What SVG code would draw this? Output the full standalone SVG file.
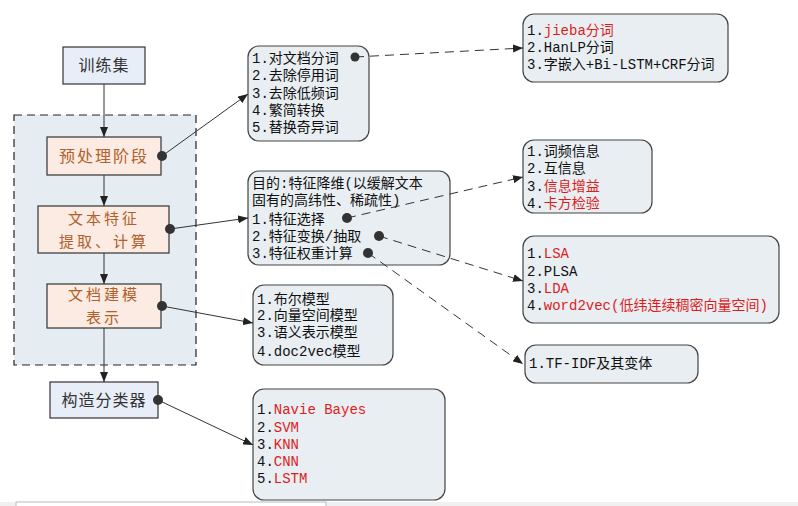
<svg xmlns="http://www.w3.org/2000/svg" width="798" height="506" viewBox="0 0 798 506">
<style>
.lt{font-family:"Noto Sans CJK SC","Noto Sans",sans-serif;font-size:16px;text-anchor:middle}
.l2{font-size:15px}
.blue{fill:#e8eef8;stroke:#333;stroke-width:1.2}
.peach{fill:#fcebe2;stroke:#333;stroke-width:1.2}
.br{fill:#b0602a}
.dk{fill:#333}
.rb{fill:#e8eef2;stroke:#444;stroke-width:1.2}
.t{font-family:"Liberation Mono","Noto Sans CJK SC",monospace;font-size:14px;fill:#111}
.r{fill:#dd1c1c}
.ln{stroke:#333;stroke-width:1;fill:none}
.ds{stroke:#333;stroke-width:1;fill:none;stroke-dasharray:9,6}
.dot{fill:#333}
</style>
<defs>
<marker id="ah" markerWidth="10" markerHeight="8" refX="10" refY="4" orient="auto" markerUnits="userSpaceOnUse">
<path d="M0,0 L10,4 L0,8 Z" fill="#222"/>
</marker>
</defs>
<rect width="798" height="506" fill="#fff"/>
<rect x="0" y="502" width="798" height="4" fill="#f0f0f0"/>
<rect x="16" y="502" width="310" height="8" fill="#fff" stroke="#bbb"/>

<rect id="container" x="14" y="115" width="182" height="250" fill="#e6edf2" stroke="#222" stroke-width="1.2" stroke-dasharray="8,5"/>

<g id="train">
<rect class="blue" x="63" y="47" width="82" height="37"/>
<text class="lt dk" x="104" y="71" letter-spacing="1">训练集</text>
</g>
<g id="preprocess">
<rect class="peach" x="47" y="137" width="114" height="38"/>
<text class="lt br" x="104" y="162" letter-spacing="2">预处理阶段</text>
</g>
<g id="feature">
<rect class="peach" x="38" y="206" width="131" height="47"/>
<text class="lt l2 br" x="104" y="224" letter-spacing="3">文本特征</text>
<text class="lt l2 br" x="104" y="246.5" letter-spacing="3">提取、计算</text>
</g>
<g id="docmodel">
<rect class="peach" x="47" y="284" width="114" height="44"/>
<text class="lt l2 br" x="104" y="300" letter-spacing="3">文档建模</text>
<text class="lt l2 br" x="104" y="322.5" letter-spacing="3">表示</text>
</g>
<g id="classifier">
<rect class="blue" x="50" y="382" width="108" height="36"/>
<text class="lt dk" x="104" y="406" letter-spacing="1">构造分类器</text>
</g>

<g id="box-preprocess">
<rect class="rb" x="248" y="46" width="121" height="95" rx="11"/>
<text class="t" x="252" y="63">1.对文档分词</text>
<text class="t" x="252" y="80">2.去除停用词</text>
<text class="t" x="252" y="98">3.去除低频词</text>
<text class="t" x="252" y="115">4.繁简转换</text>
<text class="t" x="252" y="132">5.替换奇异词</text>
</g>
<g id="box-segment">
<rect class="rb" x="523" y="14" width="205" height="68" rx="11"/>
<text class="t" x="527" y="35">1.<tspan class="r">jieba分词</tspan></text>
<text class="t" x="527" y="52">2.HanLP分词</text>
<text class="t" x="527" y="69">3.字嵌入+Bi-LSTM+CRF分词</text>
</g>
<g id="box-feature">
<rect class="rb" x="248" y="171" width="202" height="94" rx="11"/>
<text class="t" x="252" y="188">目的:特征降维(以缓解文本</text>
<text class="t" x="252" y="205">固有的高纬性、稀疏性)</text>
<text class="t" x="252" y="224">1.特征选择</text>
<text class="t" x="252" y="241">2.特征变换/抽取</text>
<text class="t" x="252" y="258">3.特征权重计算</text>
</g>
<g id="box-select">
<rect class="rb" x="523" y="140" width="129" height="73" rx="11"/>
<text class="t" x="527" y="156">1.词频信息</text>
<text class="t" x="527" y="173">2.互信息</text>
<text class="t" x="527" y="191">3.<tspan class="r">信息增益</tspan></text>
<text class="t" x="527" y="208">4.<tspan class="r">卡方检验</tspan></text>
</g>
<g id="box-transform">
<rect class="rb" x="523" y="236" width="256" height="87" rx="11"/>
<text class="t" x="527" y="258">1.<tspan class="r">LSA</tspan></text>
<text class="t" x="527" y="276">2.PLSA</text>
<text class="t" x="527" y="293">3.<tspan class="r">LDA</tspan></text>
<text class="t" x="527" y="310">4.<tspan class="r">word2vec(低纬连续稠密向量空间)</tspan></text>
</g>
<g id="box-weight">
<rect class="rb" x="525" y="345" width="173" height="38" rx="11"/>
<text class="t" x="529" y="368">1.TF-IDF及其变体</text>
</g>
<g id="box-docmodel">
<rect class="rb" x="253" y="285" width="140" height="80" rx="11"/>
<text class="t" x="257" y="304">1.布尔模型</text>
<text class="t" x="257" y="320">2.向量空间模型</text>
<text class="t" x="257" y="337">3.语义表示模型</text>
<text class="t" x="257" y="356">4.doc2vec模型</text>
</g>
<g id="box-classifier">
<rect class="rb" x="253" y="389" width="192" height="111" rx="11"/>
<text class="t" x="257" y="414">1.<tspan class="r">Navie Bayes</tspan></text>
<text class="t" x="257" y="432">2.<tspan class="r">SVM</tspan></text>
<text class="t" x="257" y="449">3.<tspan class="r">KNN</tspan></text>
<text class="t" x="257" y="466">4.<tspan class="r">CNN</tspan></text>
<text class="t" x="257" y="483">5.<tspan class="r">LSTM</tspan></text>
</g>

<g id="connectors">
<line class="ln" x1="104" y1="84" x2="104" y2="137" marker-end="url(#ah)"/>
<line class="ln" x1="104" y1="175" x2="104" y2="206" marker-end="url(#ah)"/>
<line class="ln" x1="104" y1="253" x2="104" y2="284" marker-end="url(#ah)"/>
<line class="ln" x1="104" y1="328" x2="104" y2="382" marker-end="url(#ah)"/>
<line class="ln" x1="162" y1="156" x2="248" y2="94" marker-end="url(#ah)"/>
<line class="ln" x1="170" y1="229" x2="248" y2="218" marker-end="url(#ah)"/>
<line class="ln" x1="162" y1="306" x2="253" y2="323" marker-end="url(#ah)"/>
<line class="ln" x1="158" y1="400" x2="253" y2="445" marker-end="url(#ah)"/>
<line class="ds" x1="355" y1="57" x2="523" y2="48" marker-end="url(#ah)"/>
<line class="ds" x1="347" y1="218" x2="523" y2="177" marker-end="url(#ah)"/>
<line class="ds" x1="379" y1="236" x2="523" y2="281" marker-end="url(#ah)"/>
<line class="ds" x1="368" y1="253" x2="523" y2="364" marker-end="url(#ah)"/>
<circle class="dot" cx="162" cy="156" r="5"/>
<circle class="dot" cx="170" cy="229" r="5"/>
<circle class="dot" cx="162" cy="306" r="5"/>
<circle class="dot" cx="158" cy="400" r="5"/>
<circle class="dot" cx="355" cy="57" r="4.5"/>
<circle class="dot" cx="347" cy="218" r="5"/>
<circle class="dot" cx="379" cy="236" r="5"/>
<circle class="dot" cx="368" cy="253" r="5"/>
</g>
</svg>
